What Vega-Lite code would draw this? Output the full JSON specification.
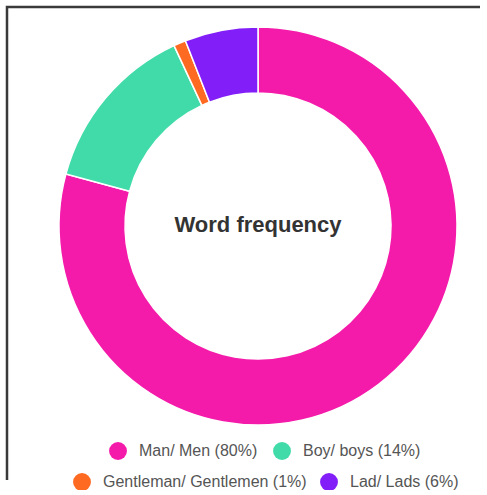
{
  "$schema": "https://vega.github.io/schema/vega-lite/v6.json",
  "width": 473,
  "height": 473,
  "autosize": "none",
  "padding": {"left": 7, "top": 7, "right": 0, "bottom": 10},
  "background": "white",
  "config": {
    "view": {"stroke": "#3a3a3a", "strokeWidth": 2.5, "strokeDash": [473, 946, 473]},
    "font": "Liberation Sans"
  },
  "datasets": {
    "words": [
      {"word": "Man/ Men (80%)", "pct": 80, "ord": 1},
      {"word": "Boy/ boys (14%)", "pct": 14, "ord": 2},
      {"word": "Gentleman/ Gentlemen (1%)", "pct": 1, "ord": 3},
      {"word": "Lad/ Lads (6%)", "pct": 6, "ord": 4}
    ]
  },
  "layer": [
    {
      "data": {"name": "words"},
      "mark": {"type": "arc", "outerRadius": 199, "innerRadius": 133, "stroke": "white", "strokeWidth": 1.5, "xOffset": 14.5, "yOffset": -17.5},
      "encoding": {
        "theta": {"field": "pct", "type": "quantitative", "stack": true},
        "order": {"field": "ord", "type": "quantitative"},
        "color": {
          "field": "word",
          "type": "nominal",
          "scale": {
            "domain": ["Man/ Men (80%)", "Boy/ boys (14%)", "Gentleman/ Gentlemen (1%)", "Lad/ Lads (6%)"],
            "range": ["#F51BAA", "#40DBA8", "#FF6A22", "#821EF8"]
          },
          "legend": {
            "values": ["Man/ Men (80%)", "Boy/ boys (14%)"],
            "orient": "none",
            "legendX": 102,
            "legendY": 435,
            "direction": "horizontal",
            "title": null,
            "padding": 0,
            "symbolType": "circle",
            "symbolSize": 320,
            "symbolStrokeWidth": 0,
            "labelFont": "Liberation Sans",
            "labelFontSize": 16,
            "labelColor": "#555555",
            "labelOffset": 12,
            "columnPadding": 15,
            "labelLimit": 400
          }
        }
      }
    },
    {
      "data": {"name": "words"},
      "mark": {"type": "arc", "outerRadius": 199, "innerRadius": 133, "stroke": "white", "strokeWidth": 1.5, "xOffset": 14.5, "yOffset": -17.5},
      "encoding": {
        "theta": {"field": "pct", "type": "quantitative", "stack": true},
        "order": {"field": "ord", "type": "quantitative"},
        "color": {
          "field": "word",
          "type": "nominal",
          "scale": {
            "domain": ["Man/ Men (80%)", "Boy/ boys (14%)", "Gentleman/ Gentlemen (1%)", "Lad/ Lads (6%)"],
            "range": ["#F51BAA", "#40DBA8", "#FF6A22", "#821EF8"]
          },
          "legend": {
            "values": ["Gentleman/ Gentlemen (1%)", "Lad/ Lads (6%)"],
            "orient": "none",
            "legendX": 66,
            "legendY": 466,
            "direction": "horizontal",
            "title": null,
            "padding": 0,
            "symbolType": "circle",
            "symbolSize": 320,
            "symbolStrokeWidth": 0,
            "labelFont": "Liberation Sans",
            "labelFontSize": 16,
            "labelColor": "#555555",
            "labelOffset": 12,
            "columnPadding": 13,
            "labelLimit": 400
          }
        }
      }
    },
    {
      "data": {"values": [{"label": "Word frequency"}]},
      "mark": {"type": "text", "font": "Liberation Sans", "fontSize": 22, "fontWeight": "bold", "color": "#333333", "xOffset": 14.5, "yOffset": -18.5},
      "encoding": {
        "text": {"field": "label", "type": "nominal"},
        "x": {"datum": 0.5, "type": "quantitative", "scale": {"domain": [0, 1]}, "axis": null},
        "y": {"datum": 0.5, "type": "quantitative", "scale": {"domain": [0, 1]}, "axis": null}
      }
    }
  ],
  "resolve": {"scale": {"color": "independent"}}
}
